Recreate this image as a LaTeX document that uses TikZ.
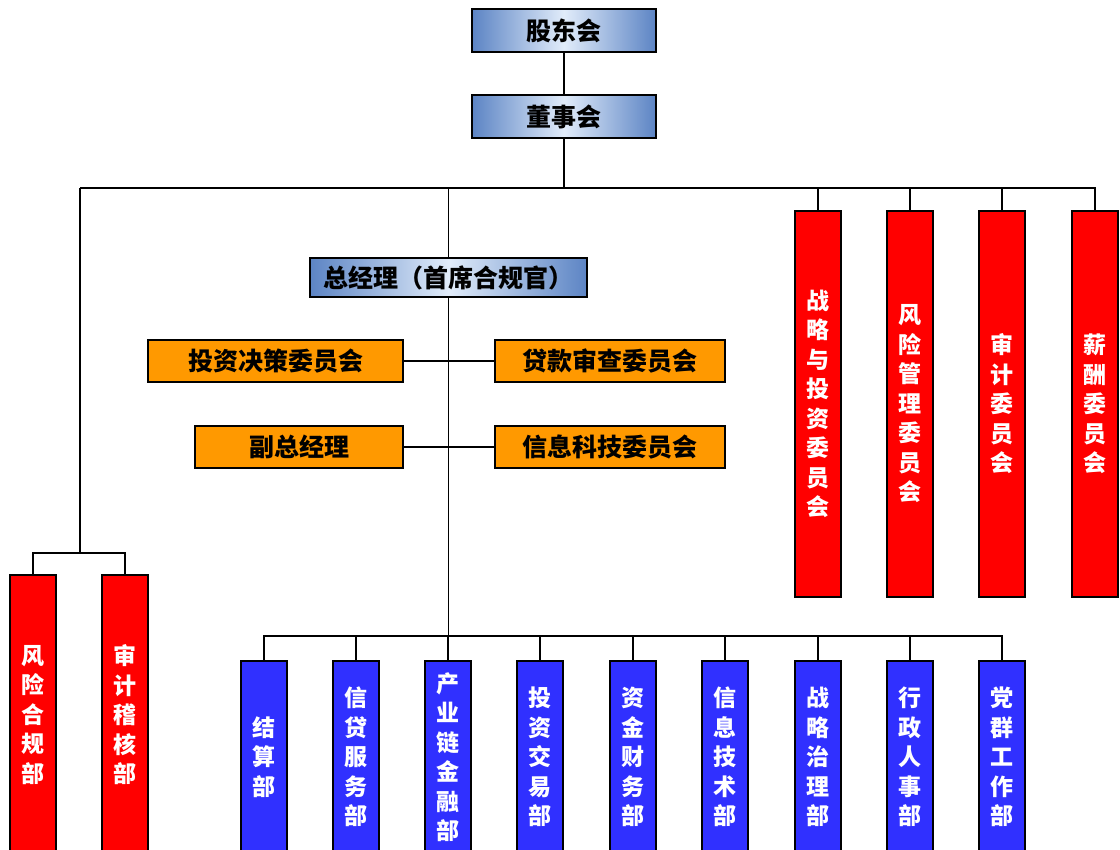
\documentclass[tikz,border=0pt]{standalone}
\usepackage{fontspec}
\setmainfont{Noto Sans CJK SC}
\definecolor{tb}{RGB}{92,132,196}
\definecolor{tbl}{RGB}{225,236,250}
\definecolor{orb}{RGB}{255,153,0}
\definecolor{rd}{RGB}{255,0,0}
\definecolor{bl}{RGB}{48,48,255}
\tikzset{
 ln/.style={line width=1.6pt, draw=black},
 topbox/.style={draw=black, line width=1.5pt, left color=tb, right color=tb, middle color=tbl, minimum width=184pt, minimum height=43pt, inner sep=0pt, font=\fontsize{25}{25}\selectfont\bfseries},
 obox/.style={draw=black, line width=1.4pt, fill=orb, minimum height=42pt, inner sep=0pt, font=\fontsize{25}{25}\selectfont\bfseries},
 rbox/.style={draw=black, line width=1.4pt, fill=rd, minimum width=46pt, inner sep=0pt, text=white, align=center, font=\fontsize{23}{29.5}\selectfont\bfseries},
 bbox/.style={rbox, fill=bl},
}
\begin{document}
\begin{tikzpicture}[x=1pt,y=-1pt]
\useasboundingbox (0,0) rectangle (1120,850);
\clip (0,0) rectangle (1120,850);
\fill[white] (0,0) rectangle (1120,850);
% top
\node[topbox] (gd) at (564,30.5) {股东会};
\node[topbox] (dsh) at (564,116.5) {董事会};
\node[topbox, minimum width=277pt, minimum height=39pt] (zjl) at (448.5,277.5) {总经理（首席合规官）};
% orange
\node[obox, minimum width=255pt] (tz) at (275.5,361) {投资决策委员会};
\node[obox, minimum width=230pt] (dk) at (610,361) {贷款审查委员会};
\node[obox, minimum width=208pt] (fz) at (299,447) {副总经理};
\node[obox, minimum width=230pt] (xx) at (610,447) {信息科技委员会};
% right committees
\node[rbox, minimum height=386pt] (c1) at (818,404) {战\\略\\与\\投\\资\\委\\员\\会};
\node[rbox, minimum height=386pt] (c2) at (910,404) {风\\险\\管\\理\\委\\员\\会};
\node[rbox, minimum height=386pt] (c3) at (1002,404) {审\\计\\委\\员\\会};
\node[rbox, minimum height=386pt] (c4) at (1095,404) {薪\\酬\\委\\员\\会};
% left
\node[rbox, minimum height=280pt] (l1) at (33,715) {风\\险\\合\\规\\部};
\node[rbox, minimum height=280pt] (l2) at (125,715) {审\\计\\稽\\核\\部};
% bottom departments
\node[bbox, minimum height=192pt] (d1) at (264,757) {结\\算\\部};
\node[bbox, minimum height=192pt] (d2) at (356,757) {信\\贷\\服\\务\\部};
\node[bbox, minimum height=192pt] (d3) at (448,757) {产\\业\\链\\金\\融\\部};
\node[bbox, minimum height=192pt] (d4) at (540,757) {投\\资\\交\\易\\部};
\node[bbox, minimum height=192pt] (d5) at (633,757) {资\\金\\财\\务\\部};
\node[bbox, minimum height=192pt] (d6) at (725,757) {信\\息\\技\\术\\部};
\node[bbox, minimum height=192pt] (d7) at (818,757) {战\\略\\治\\理\\部};
\node[bbox, minimum height=192pt] (d8) at (910,757) {行\\政\\人\\事\\部};
\node[bbox, minimum height=192pt] (d9) at (1002,757) {党\\群\\工\\作\\部};
% junctions
\coordinate (bus1) at (80,188);
\coordinate (lsplit) at (80,553);
\coordinate (bus2) at (448,636);
% connectors
\draw[ln] (gd.south) -- (dsh.north);
\draw[ln] (dsh.south) -- (dsh.south |- bus1);
\draw[ln] (bus1) -- (c4.north |- bus1) -- (c4.north);
\draw[ln] (bus1) -- (lsplit);
\draw[ln] (l1.north) |- (lsplit) -| (l2.north);
\draw[ln] (zjl.north |- bus1) -- (zjl.north);
\foreach \c in {c1,c2,c3} \draw[ln] (\c.north |- bus1) -- (\c.north);
\draw[ln] (zjl.south) -- (zjl.south |- bus2);
\draw[ln] (d1.north) |- (d9.north |- bus2) -- (d9.north);
\foreach \d in {d2,d3,d4,d5,d6,d7,d8} \draw[ln] (\d.north |- bus2) -- (\d.north);
\draw[ln] (tz.east) -- (dk.west);
\draw[ln] (fz.east) -- (xx.west);
\end{tikzpicture}
\end{document}
